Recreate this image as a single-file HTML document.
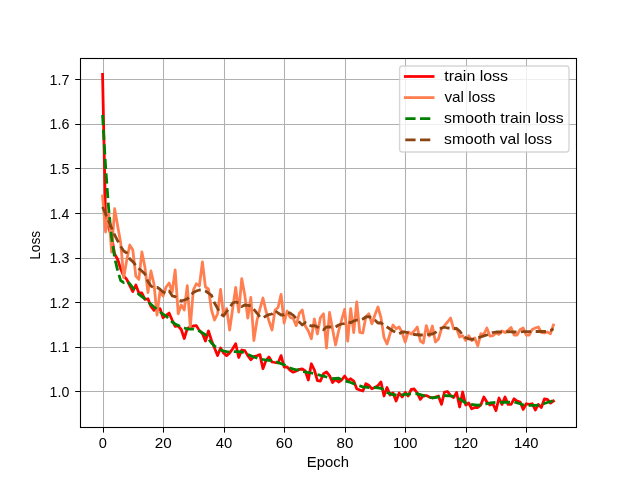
<!DOCTYPE html>
<html><head><meta charset="utf-8"><title>loss</title>
<style>
html,body{margin:0;padding:0;background:#fff;}
body{width:640px;height:480px;overflow:hidden;}
svg{display:block;}
text{font-family:"Liberation Sans",sans-serif;fill:#000;}
</style></head><body>
<svg width="640" height="480" viewBox="0 0 640 480" style="will-change:transform">
<rect x="0" y="0" width="640" height="480" fill="#ffffff"/>

<g stroke="#b0b0b0" stroke-width="1.05" fill="none">
<line x1="103.5" y1="58" x2="103.5" y2="427.5"/>
<line x1="163.5" y1="58" x2="163.5" y2="427.5"/>
<line x1="224.5" y1="58" x2="224.5" y2="427.5"/>
<line x1="284.5" y1="58" x2="284.5" y2="427.5"/>
<line x1="345.5" y1="58" x2="345.5" y2="427.5"/>
<line x1="405.5" y1="58" x2="405.5" y2="427.5"/>
<line x1="466.5" y1="58" x2="466.5" y2="427.5"/>
<line x1="526.5" y1="58" x2="526.5" y2="427.5"/>
<line x1="80.5" y1="391.5" x2="576.5" y2="391.5"/>
<line x1="80.5" y1="347.5" x2="576.5" y2="347.5"/>
<line x1="80.5" y1="302.5" x2="576.5" y2="302.5"/>
<line x1="80.5" y1="258.5" x2="576.5" y2="258.5"/>
<line x1="80.5" y1="213.5" x2="576.5" y2="213.5"/>
<line x1="80.5" y1="168.5" x2="576.5" y2="168.5"/>
<line x1="80.5" y1="124.5" x2="576.5" y2="124.5"/>
<line x1="80.5" y1="79.5" x2="576.5" y2="79.5"/>
</g>
<clipPath id="c"><rect x="80" y="57.6" width="496" height="369.6"/></clipPath>
<g clip-path="url(#c)" fill="none" stroke-linejoin="round">
<path d="M102.55,74.40 L105.57,219.00 L108.60,227.00 L111.62,237.00 L114.65,254.00 L117.68,259.50 L120.70,269.00 L123.73,276.00 L126.75,279.40 L129.78,285.60 L132.81,291.50 L135.83,285.00 L138.86,293.00 L141.89,293.00 L144.91,299.40 L147.94,298.75 L150.96,306.50 L153.99,310.30 L157.02,308.50 L160.04,308.75 L163.07,317.70 L166.10,315.30 L169.12,313.00 L172.15,320.00 L175.17,326.50 L178.20,326.00 L181.23,329.50 L184.25,338.50 L187.28,328.50 L190.31,327.00 L193.33,326.00 L196.36,325.60 L199.38,330.60 L202.41,333.50 L205.44,341.00 L208.46,331.00 L211.49,340.50 L214.52,348.00 L217.54,355.60 L220.57,348.00 L223.59,353.00 L226.62,355.60 L229.65,353.00 L232.67,348.75 L235.70,343.75 L238.73,357.50 L241.75,350.00 L244.78,350.60 L247.80,355.60 L250.83,359.70 L253.86,356.50 L256.88,355.80 L259.91,354.60 L262.94,368.75 L265.96,360.60 L268.99,357.00 L272.01,362.00 L275.04,362.50 L278.07,363.00 L281.09,355.60 L284.12,367.00 L287.15,367.00 L290.17,370.30 L293.20,372.20 L296.22,371.00 L299.25,369.40 L302.28,369.00 L305.30,371.00 L308.33,380.00 L311.36,363.75 L314.38,370.00 L317.41,380.60 L320.43,381.00 L323.46,373.75 L326.49,372.00 L329.51,375.60 L332.54,382.50 L335.57,379.40 L338.59,382.00 L341.62,380.00 L344.64,376.00 L347.67,380.60 L350.70,378.75 L353.72,381.00 L356.75,388.75 L359.78,390.00 L362.80,391.00 L365.83,383.75 L368.85,385.30 L371.88,388.75 L374.91,387.50 L377.93,385.60 L380.96,382.00 L383.99,396.00 L387.01,387.50 L390.04,395.00 L393.06,393.00 L396.09,401.00 L399.12,393.00 L402.14,397.00 L405.17,392.50 L408.20,396.00 L411.22,389.40 L414.25,389.00 L417.27,393.00 L420.30,399.40 L423.33,395.60 L426.35,395.60 L429.38,397.00 L432.41,398.00 L435.43,397.00 L438.46,396.00 L441.48,404.40 L444.51,392.00 L447.54,391.50 L450.56,395.60 L453.59,397.50 L456.62,392.50 L459.64,407.00 L462.67,392.00 L465.69,405.00 L468.72,403.00 L471.75,408.75 L474.77,407.50 L477.80,407.50 L480.83,405.00 L483.85,397.00 L486.88,402.00 L489.90,405.00 L492.93,403.75 L495.96,410.60 L498.98,398.00 L502.01,404.40 L505.03,397.00 L508.06,404.40 L511.09,404.40 L514.11,398.75 L517.14,401.00 L520.17,402.00 L523.19,409.40 L526.22,403.75 L529.24,404.40 L532.27,403.75 L535.30,410.00 L538.32,404.40 L541.35,407.50 L544.38,399.00 L547.40,399.40 L550.43,403.00 L553.45,401.00" stroke="#ff0000" stroke-width="2.78" stroke-linecap="square"/>
<path d="M102.55,196.00 L105.57,232.00 L108.60,212.00 L111.62,252.00 L114.65,208.75 L117.68,226.00 L120.70,243.00 L123.73,277.50 L126.75,260.00 L129.78,245.00 L132.81,250.00 L135.83,276.00 L138.86,279.40 L141.89,252.00 L144.91,267.00 L147.94,292.50 L150.96,271.00 L153.99,284.00 L157.02,315.00 L160.04,291.00 L163.07,296.00 L166.10,287.00 L169.12,283.00 L172.15,292.00 L175.17,270.00 L178.20,313.75 L181.23,305.00 L184.25,310.00 L187.28,285.60 L190.31,327.00 L193.33,290.00 L196.36,283.75 L199.38,286.00 L202.41,262.00 L205.44,287.00 L208.46,289.00 L211.49,310.00 L214.52,320.00 L217.54,314.00 L220.57,289.40 L223.59,316.00 L226.62,308.50 L229.65,330.00 L232.67,308.75 L235.70,287.50 L238.73,312.00 L241.75,278.75 L244.78,295.00 L247.80,318.00 L250.83,297.50 L253.86,340.50 L256.88,321.00 L259.91,309.00 L262.94,298.00 L265.96,311.00 L268.99,321.00 L272.01,330.00 L275.04,310.00 L278.07,307.50 L281.09,294.40 L284.12,323.00 L287.15,311.00 L290.17,317.50 L293.20,318.50 L296.22,325.60 L299.25,313.50 L302.28,310.00 L305.30,326.00 L308.33,331.00 L311.36,338.75 L314.38,319.00 L317.41,334.00 L320.43,317.50 L323.46,313.75 L326.49,348.00 L329.51,312.50 L332.54,329.00 L335.57,345.00 L338.59,331.00 L341.62,320.00 L344.64,309.40 L347.67,341.00 L350.70,308.75 L353.72,332.50 L356.75,302.00 L359.78,332.50 L362.80,333.00 L365.83,317.00 L368.85,313.75 L371.88,323.75 L374.91,315.00 L377.93,307.00 L380.96,317.50 L383.99,337.50 L387.01,344.00 L390.04,333.75 L393.06,325.00 L396.09,328.75 L399.12,327.00 L402.14,332.50 L405.17,342.00 L408.20,332.00 L411.22,334.00 L414.25,331.00 L417.27,327.00 L420.30,341.00 L423.33,343.00 L426.35,325.60 L429.38,336.00 L432.41,326.00 L435.43,342.00 L438.46,339.00 L441.48,328.75 L444.51,325.60 L447.54,322.00 L450.56,318.00 L453.59,328.75 L456.62,328.75 L459.64,337.00 L462.67,335.60 L465.69,340.60 L468.72,335.60 L471.75,340.60 L474.77,338.00 L477.80,346.00 L480.83,333.75 L483.85,334.40 L486.88,328.00 L489.90,336.00 L492.93,335.60 L495.96,333.00 L498.98,334.40 L502.01,331.00 L505.03,332.50 L508.06,330.50 L511.09,327.50 L514.11,335.00 L517.14,335.00 L520.17,329.40 L523.19,328.00 L526.22,335.00 L529.24,335.00 L532.27,329.40 L535.30,328.00 L538.32,327.00 L541.35,332.50 L544.38,333.00 L547.40,332.00 L550.43,333.75 L553.45,325.00" stroke="#ff7f50" stroke-width="2.78" stroke-linecap="square"/>
<path d="M102.55,115.00 L105.57,166.00 L108.60,208.00 L111.62,237.50 L114.65,258.00 L117.68,270.60 L120.70,280.60 L123.73,282.50 L126.75,281.00 L129.78,283.75 L132.81,287.75 L135.83,291.00 L138.86,294.40 L141.89,296.60 L144.91,299.00 L147.94,302.00 L150.96,304.30 L153.99,307.00 L157.02,309.20 L160.04,312.00 L163.07,314.20 L166.10,316.00 L169.12,319.00 L171.25,321.11" stroke="#008000" stroke-width="2.78" stroke-dasharray="10.220 4.414"/>
<path d="M171.25,321.11 L172.15,322.00 L175.17,324.00 L178.20,325.50 L181.23,327.00 L184.25,328.00 L187.28,329.00 L190.31,329.10 L193.33,329.20 L196.36,330.10 L199.38,331.00 L202.41,332.88 L205.44,334.75 L208.46,339.00 L211.49,343.00 L214.52,346.00 L217.54,348.50 L220.57,350.00 L223.59,351.00 L226.62,351.60 L229.65,351.90 L232.67,351.70 L233.75,351.71" stroke="#008000" stroke-width="2.78" stroke-dasharray="10.159 4.388"/>
<path d="M233.75,351.71 L235.70,351.73 L238.73,351.75 L241.75,351.90 L244.78,353.15 L247.80,354.40 L250.83,355.70 L253.86,357.00 L256.88,358.00 L259.91,359.00 L262.94,359.50 L265.96,360.00 L268.99,360.30 L272.01,360.60 L275.04,361.55 L278.07,362.50 L281.09,363.62 L284.12,364.75 L287.15,366.48 L290.17,368.20 L293.20,369.00 L296.22,369.80 L299.25,369.60 L302.28,371.50 L303.10,371.64" stroke="#008000" stroke-width="2.78" stroke-dasharray="10.224 4.416"/>
<path d="M303.10,371.64 L305.30,372.00 L308.33,372.50 L311.36,373.00 L314.38,373.50 L317.41,374.45 L320.43,375.40 L323.46,376.20 L326.49,377.00 L329.51,377.88 L332.54,378.75 L335.57,378.50 L338.59,378.25 L341.62,379.62 L344.64,381.00 L347.67,381.75 L350.70,382.50 L353.72,383.75 L356.75,385.00 L359.78,385.90 L362.80,386.80 L365.83,387.15 L368.85,387.50 L371.88,387.50 L373.75,387.50" stroke="#008000" stroke-width="2.78" stroke-dasharray="10.217 4.413"/>
<path d="M373.75,387.50 L374.91,387.50 L377.93,387.88 L380.96,388.25 L383.99,390.38 L387.01,392.50 L390.04,393.62 L393.06,394.75 L396.09,395.00 L399.12,395.25 L402.14,394.82 L405.17,394.40 L408.20,394.07 L411.22,393.75 L414.25,393.75 L417.27,393.75 L420.30,394.68 L423.33,395.60 L426.35,396.45 L429.38,397.30 L432.41,397.75 L435.43,397.60 L438.46,396.90 L441.48,396.25 L443.75,395.76" stroke="#008000" stroke-width="2.78" stroke-dasharray="10.148 4.383"/>
<path d="M443.75,395.76 L444.51,395.60 L447.54,395.75 L450.56,395.90 L453.59,396.50 L456.62,397.75 L459.64,399.00 L462.67,401.00 L465.69,403.00 L468.72,403.75 L471.75,404.50 L474.77,404.88 L477.80,405.25 L480.83,404.82 L483.85,404.40 L486.88,403.70 L489.90,403.00 L492.93,402.70 L495.96,402.40 L498.98,402.32 L502.01,402.25 L505.03,402.25 L508.06,402.25 L511.09,402.07 L514.11,401.90 L514.40,401.99" stroke="#008000" stroke-width="2.78" stroke-dasharray="10.187 4.400"/>
<path d="M514.40,401.99 L517.14,402.82 L520.17,403.75 L523.19,405.00 L526.22,405.25 L529.24,405.32 L532.27,405.40 L535.30,405.32 L538.32,405.25 L541.35,404.60 L544.38,403.55 L547.40,402.50 L550.43,401.55 L553.45,400.60" stroke="#008000" stroke-width="2.78" stroke-dasharray="10.280 4.440"/>
<path d="M102.55,207.00 L105.57,214.00 L108.60,221.00 L111.62,228.00 L114.65,235.00 L117.68,240.80 L120.70,246.50 L123.73,251.00 L126.75,253.00 L129.78,259.00 L132.81,261.60 L135.83,265.30 L138.86,268.70 L141.89,271.00 L144.91,274.00 L147.94,281.50 L150.96,286.00 L153.99,288.20 L156.90,287.33" stroke="#8b4513" stroke-width="2.78" stroke-dasharray="10.071 4.350"/>
<path d="M156.90,287.33 L157.02,287.30 L160.04,289.20 L163.07,292.00 L166.10,293.30 L169.12,291.00 L172.15,295.80 L175.17,296.60 L178.20,299.20 L181.23,301.00 L184.25,300.00 L187.28,299.00 L190.31,295.60 L193.33,292.50 L196.36,291.00 L199.38,290.00 L202.41,290.00 L205.44,291.00 L208.46,293.00 L211.49,295.30 L214.52,303.00 L217.54,308.30 L220.57,314.20 L223.59,315.80 L226.62,311.50 L229.65,307.75 L230.60,306.25" stroke="#8b4513" stroke-width="2.78" stroke-dasharray="10.273 4.437"/>
<path d="M230.60,306.25 L232.67,303.00 L235.70,302.00 L238.73,303.00 L241.75,306.50 L244.78,305.00 L247.80,305.40 L250.83,306.00 L253.86,309.40 L256.88,313.00 L259.91,317.00 L262.94,318.00 L265.96,316.00 L268.99,314.60 L272.01,314.00 L275.04,310.60 L278.07,313.00 L281.09,315.00 L284.12,314.75 L287.15,312.75 L290.17,313.00 L293.20,315.30 L296.22,318.40 L298.75,321.40" stroke="#8b4513" stroke-width="2.78" stroke-dasharray="9.973 4.307"/>
<path d="M298.75,321.40 L299.25,322.00 L302.28,325.00 L305.30,322.50 L308.33,325.00 L311.36,326.00 L314.38,325.60 L317.41,327.00 L320.43,328.75 L323.46,329.75 L326.49,327.00 L329.51,327.00 L332.54,327.00 L335.57,327.00 L338.59,325.00 L341.62,324.00 L344.64,323.50 L347.67,322.00 L350.70,322.75 L353.72,321.00 L356.75,320.00 L359.78,320.00 L361.90,319.30" stroke="#8b4513" stroke-width="2.78" stroke-dasharray="9.866 4.261"/>
<path d="M361.90,319.30 L362.80,319.00 L365.83,317.00 L368.85,316.60 L371.88,318.00 L374.91,320.00 L377.93,323.00 L380.96,322.75 L383.99,325.00 L387.01,327.00 L390.04,329.00 L393.06,331.00 L396.09,332.50 L399.12,333.75 L402.14,332.00 L405.17,332.00 L408.20,332.75 L411.22,334.00 L414.25,334.50 L417.27,334.75 L420.30,335.00 L423.33,335.00 L426.35,335.00 L429.38,334.40 L432.41,334.00 L435.43,332.50 L438.46,330.00 L440.00,328.98" stroke="#8b4513" stroke-width="2.78" stroke-dasharray="10.079 4.353"/>
<path d="M440.00,328.98 L441.48,328.00 L444.51,327.25 L447.54,328.00 L450.56,328.25 L453.59,328.50 L456.62,328.50 L459.64,331.00 L462.67,335.00 L465.69,337.75 L468.72,338.90 L471.75,339.25 L474.77,339.00 L477.80,337.75 L480.83,336.90 L483.85,335.90 L486.88,335.00 L489.90,333.75 L492.93,332.50 L495.96,332.00 L498.98,332.00 L502.01,332.00 L505.03,331.90 L506.25,331.82" stroke="#8b4513" stroke-width="2.78" stroke-dasharray="10.076 4.352"/>
<path d="M506.25,331.82 L508.06,331.70 L511.09,331.80 L514.11,332.00 L517.14,332.00 L520.17,331.80 L523.19,331.70 L526.22,331.70 L529.24,331.70 L532.27,331.60 L535.30,331.50 L538.32,331.50 L541.35,331.50 L544.38,331.50 L547.40,331.50 L550.43,330.60 L553.45,328.75" stroke="#8b4513" stroke-width="2.78" stroke-dasharray="10.280 4.440"/>
</g>
<rect x="80.5" y="58.5" width="496" height="369" fill="none" stroke="#000" stroke-width="1.1"/>
<g stroke="#000" stroke-width="1.05">
<line x1="103.5" y1="427.5" x2="103.5" y2="432.6"/>
<line x1="163.5" y1="427.5" x2="163.5" y2="432.6"/>
<line x1="224.5" y1="427.5" x2="224.5" y2="432.6"/>
<line x1="284.5" y1="427.5" x2="284.5" y2="432.6"/>
<line x1="345.5" y1="427.5" x2="345.5" y2="432.6"/>
<line x1="405.5" y1="427.5" x2="405.5" y2="432.6"/>
<line x1="466.5" y1="427.5" x2="466.5" y2="432.6"/>
<line x1="526.5" y1="427.5" x2="526.5" y2="432.6"/>
<line x1="75.2" y1="391.5" x2="80.5" y2="391.5"/>
<line x1="75.2" y1="347.5" x2="80.5" y2="347.5"/>
<line x1="75.2" y1="302.5" x2="80.5" y2="302.5"/>
<line x1="75.2" y1="258.5" x2="80.5" y2="258.5"/>
<line x1="75.2" y1="213.5" x2="80.5" y2="213.5"/>
<line x1="75.2" y1="168.5" x2="80.5" y2="168.5"/>
<line x1="75.2" y1="124.5" x2="80.5" y2="124.5"/>
<line x1="75.2" y1="79.5" x2="80.5" y2="79.5"/>
</g>
<defs><filter id="aa" filterUnits="userSpaceOnUse" x="0" y="0" width="640" height="480"><feOffset dx="0" dy="0"/></filter></defs>
<g filter="url(#aa)">
<text x="98.77" y="447.90" font-size="14.1px" textLength="8.14" lengthAdjust="spacingAndGlyphs">0</text>
<text x="154.80" y="447.90" font-size="14.1px" textLength="16.96" lengthAdjust="spacingAndGlyphs">20</text>
<text x="215.75" y="447.90" font-size="14.1px" textLength="16.52" lengthAdjust="spacingAndGlyphs">40</text>
<text x="275.84" y="447.90" font-size="14.1px" textLength="16.97" lengthAdjust="spacingAndGlyphs">60</text>
<text x="336.49" y="447.90" font-size="14.1px" textLength="16.85" lengthAdjust="spacingAndGlyphs">80</text>
<text x="392.90" y="447.90" font-size="14.1px" textLength="24.60" lengthAdjust="spacingAndGlyphs">100</text>
<text x="453.42" y="447.90" font-size="14.1px" textLength="24.60" lengthAdjust="spacingAndGlyphs">120</text>
<text x="513.95" y="447.90" font-size="14.1px" textLength="24.60" lengthAdjust="spacingAndGlyphs">140</text>
<text x="49.62" y="396.85" font-size="14.1px" textLength="19.74" lengthAdjust="spacingAndGlyphs">1.0</text>
<text x="49.61" y="352.28" font-size="14.1px" textLength="19.89" lengthAdjust="spacingAndGlyphs">1.1</text>
<text x="49.61" y="307.71" font-size="14.1px" textLength="19.91" lengthAdjust="spacingAndGlyphs">1.2</text>
<text x="49.61" y="263.14" font-size="14.1px" textLength="19.81" lengthAdjust="spacingAndGlyphs">1.3</text>
<text x="49.63" y="218.57" font-size="14.1px" textLength="19.59" lengthAdjust="spacingAndGlyphs">1.4</text>
<text x="49.62" y="174.00" font-size="14.1px" textLength="19.78" lengthAdjust="spacingAndGlyphs">1.5</text>
<text x="49.61" y="129.43" font-size="14.1px" textLength="19.81" lengthAdjust="spacingAndGlyphs">1.6</text>
<text x="49.61" y="84.86" font-size="14.1px" textLength="19.91" lengthAdjust="spacingAndGlyphs">1.7</text>
<text x="306.88" y="467.00" font-size="14.3px" textLength="42.08" lengthAdjust="spacingAndGlyphs">Epoch</text>
<text transform="translate(40.30,259.83) rotate(-90)" font-size="14.3px" textLength="29.02" lengthAdjust="spacingAndGlyphs">Loss</text>
</g>
<rect x="399.6" y="66" width="169.4" height="86" rx="2.8" ry="2.8" fill="#ffffff" fill-opacity="0.8" stroke="#cccccc" stroke-opacity="0.8" stroke-width="1.39"/>
<g filter="url(#aa)">
<line x1="405.3" y1="76.5" x2="433.1" y2="76.5" stroke="#ff0000" stroke-width="2.78" stroke-linecap="square"/>
<text x="444.26" y="80.65" font-size="14.6px" textLength="63.82" lengthAdjust="spacingAndGlyphs">train loss</text>
<line x1="405.3" y1="97.6" x2="433.1" y2="97.6" stroke="#ff7f50" stroke-width="2.78" stroke-linecap="square"/>
<text x="444.45" y="101.75" font-size="14.6px" textLength="51.11" lengthAdjust="spacingAndGlyphs">val loss</text>
<line x1="405.3" y1="118.7" x2="433.1" y2="118.7" stroke="#008000" stroke-width="2.78" stroke-dasharray="10.28 4.44"/>
<text x="444.06" y="122.85" font-size="14.6px" textLength="119.61" lengthAdjust="spacingAndGlyphs">smooth train loss</text>
<line x1="405.3" y1="139.8" x2="433.1" y2="139.8" stroke="#8b4513" stroke-width="2.78" stroke-dasharray="10.28 4.44"/>
<text x="444.06" y="143.95" font-size="14.6px" textLength="108.00" lengthAdjust="spacingAndGlyphs">smooth val loss</text>
</g>
</svg></body></html>
